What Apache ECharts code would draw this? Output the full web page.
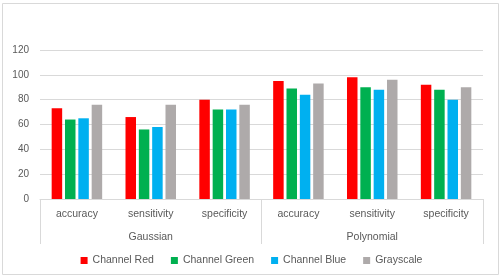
<!DOCTYPE html>
<html>
<head>
<meta charset="utf-8">
<script src="https://cdn.jsdelivr.net/npm/echarts@6/dist/echarts.min.js"></script>
<style>
  html, body { margin: 0; padding: 0; background: #fff; }
  #chart { width: 503px; height: 277px; }
</style>
</head>
<body>
<div id="chart"></div>
<script>
// data
var metrics = ['accuracy', 'sensitivity', 'specificity', 'accuracy', 'sensitivity', 'specificity'];
var groups = ['Gaussian', 'Polynomial'];
var channelRed = [73, 66, 80, 95, 98, 92];
var channelGreen = [64, 56, 72, 89, 90, 88];
var channelBlue = [65, 58, 72, 84, 88, 80];
var grayscale = [76, 76, 76, 93, 96, 90];

var chart = echarts.init(document.getElementById('chart'));
var textColor = '#595959';
var lineColor = '#d9d9d9';
var font = 'Liberation Sans';

function bar(name, data, color) {
  return {
    name: name,
    type: 'bar',
    xAxisIndex: 0,
    data: data,
    barWidth: 10.5,
    barGap: '27%',
    itemStyle: { color: color }
  };
}

var option = {
  animation: false,
  textStyle: { fontFamily: font },
  graphic: [{
    type: 'rect',
    shape: { x: 2.5, y: 3.5, width: 496, height: 271 },
    style: { fill: 'none', stroke: lineColor, lineWidth: 1 }
  }],
  grid: { left: 40, right: 20, top: 50, bottom: 78 },
  legend: {
    bottom: 6,
    left: 'center',
    itemWidth: 7,
    itemHeight: 7,
    itemGap: 17,
    icon: 'rect',
    textStyle: { color: textColor, fontSize: 10.5, fontFamily: font },
    data: ['Channel Red', 'Channel Green', 'Channel Blue', 'Grayscale']
  },
  xAxis: [{
    type: 'category',
    data: metrics,
    axisLine: { lineStyle: { color: lineColor } },
    axisTick: { show: false },
    axisLabel: { color: textColor, fontSize: 10.5, margin: 10, interval: 0 }
  }, {
    type: 'category',
    data: groups,
    position: 'bottom',
    axisLine: { show: false },
    axisTick: { show: true, length: 45, lineStyle: { color: lineColor } },
    axisLabel: { color: textColor, fontSize: 10.5, margin: 33 }
  }],
  yAxis: {
    type: 'value',
    min: 0,
    max: 120,
    interval: 20,
    axisLine: { show: false },
    axisTick: { show: false },
    axisLabel: { color: textColor, fontSize: 10, margin: 11 },
    splitLine: { lineStyle: { color: lineColor } }
  },
  series: [
    bar('Channel Red', channelRed, '#ff0000'),
    bar('Channel Green', channelGreen, '#00b050'),
    bar('Channel Blue', channelBlue, '#00b0f0'),
    bar('Grayscale', grayscale, '#aeaaaa')
  ]
};
chart.setOption(option);
</script>
</body>
</html>
